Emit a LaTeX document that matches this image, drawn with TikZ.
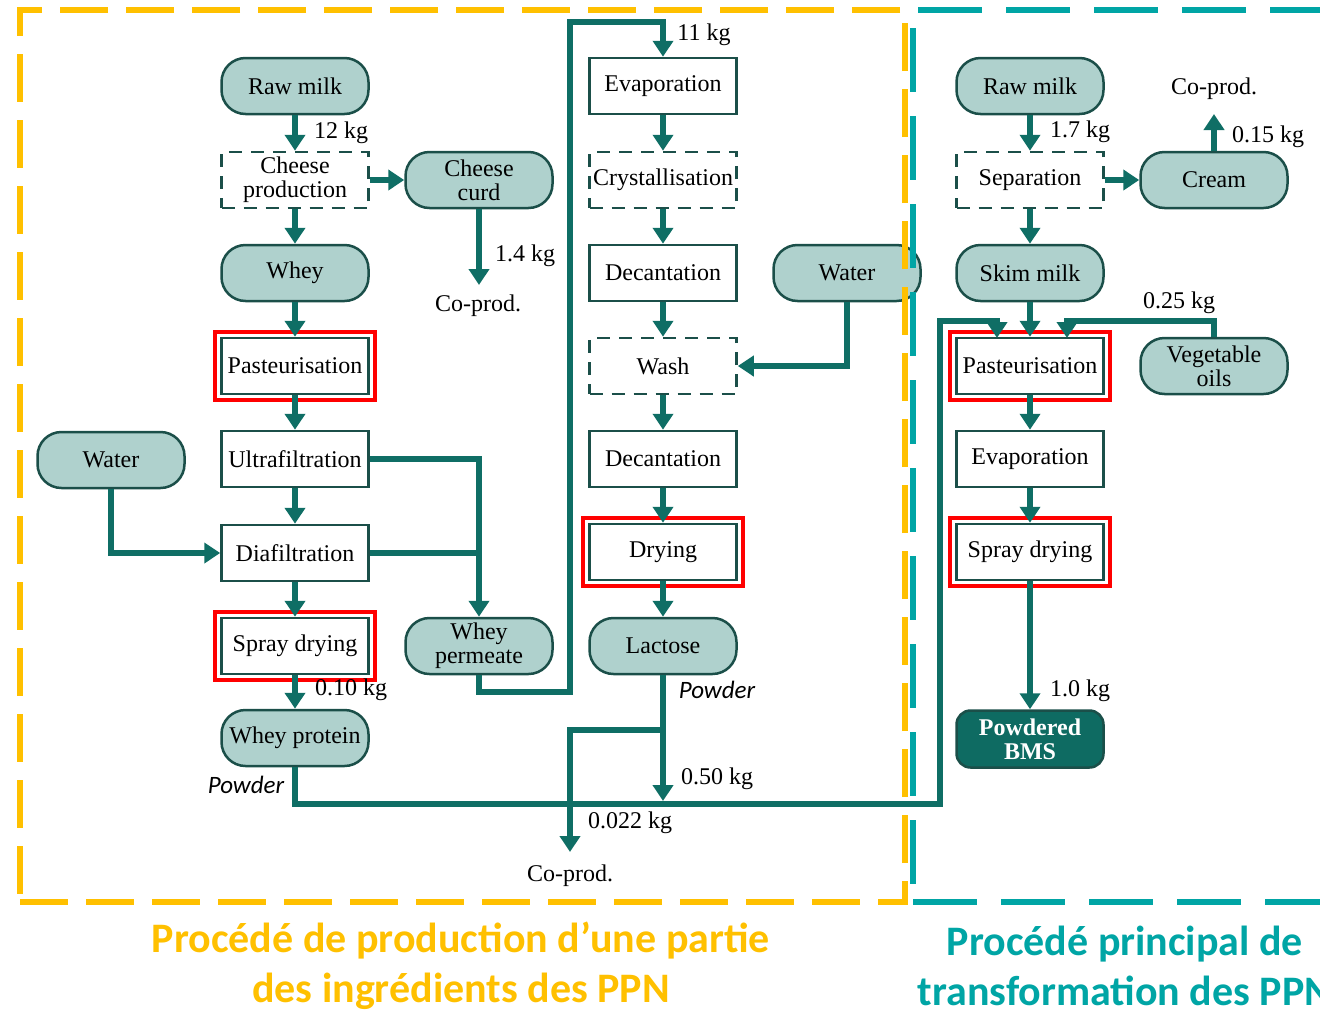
\documentclass[tikz,border=0pt]{standalone}
\usepackage{fontspec}
\setmainfont{Liberation Serif}
\newfontfamily\capfont{Carlito}
\usetikzlibrary{arrows.meta}
\definecolor{ylw}{HTML}{FFC000}
\definecolor{tl}{HTML}{00A5A5}
\definecolor{flowc}{HTML}{0F6E65}
\definecolor{pillf}{HTML}{AFD1CD}
\definecolor{edgec}{HTML}{1B4F49}
\definecolor{bmsf}{HTML}{0E6B62}
\newcommand{\nf}{\fontsize{24}{24}\selectfont}
\tikzset{
  proc/.style={draw=edgec, line width=2.5pt, fill=white, minimum width=147pt, minimum height=56pt, inner sep=0pt, align=center, font=\nf},
  dproc/.style={proc, dash pattern=on 13pt off 9pt},
  pill/.style={draw=edgec, fill=pillf, rounded corners=24pt, line width=2.5pt, minimum width=147pt, minimum height=56pt, inner sep=0pt, align=center, font=\nf},
  bmsbox/.style={draw=edgec, fill=bmsf, rounded corners=14pt, line width=2.5pt, minimum width=147pt, minimum height=57pt, inner sep=0pt, align=center, text=white, font=\nf\bfseries},
  conn/.style={draw=flowc, line width=6pt},
  flow/.style={conn, -{Triangle[length=16pt,width=20pt]}},
  redbox/.style={draw=red, line width=4pt},
  lbl/.style={font=\nf, inner sep=0pt},
  pwd/.style={font=\capfont\itshape\fontsize{25}{25}\selectfont, inner sep=0pt},
  capt/.style={font=\capfont\bfseries\fontsize{42}{42}\selectfont, inner sep=0pt, anchor=base},
  yframe/.style={draw=ylw, line width=6pt, dash pattern=on 48pt off 18pt},
  tframe/.style={draw=tl, line width=6.5pt, dash pattern=on 64pt off 24pt}
}
\begin{document}
\begin{tikzpicture}[x=1pt,y=-1pt]
\useasboundingbox (0,0) rectangle (1320,1010);
% left column
\node[pill] (rm1) at (295,86) {Raw milk};
\node[dproc] (cp) at (295,180) {Cheese\\production};
\node[pill] (cc) at (479,180) {Cheese\\curd};
\node[pill] (wh) at (295,273) {Whey};
\node[proc] (pa1) at (295,366) {Pasteurisation};
\node[proc] (uf) at (295,459) {Ultrafiltration};
\node[proc] (df) at (295,553) {Diafiltration};
\node[proc] (sd1) at (295,646) {Spray drying};
\node[pill] (wp) at (295,738) {Whey protein};
\node[pill] (wa1) at (111,460) {Water};
\node[pill] (wperm) at (479,646) {Whey\\permeate};
% middle column
\node[proc] (ev1) at (663,86) {Evaporation};
\node[dproc] (cr) at (663,180) {Crystallisation};
\node[proc] (de1) at (663,273) {Decantation};
\node[pill] (wa2) at (847,273) {Water};
\node[dproc] (wash) at (663,366) {Wash};
\node[proc] (de2) at (663,459) {Decantation};
\node[proc] (dr) at (663,552) {Drying};
\node[pill] (la) at (663,646) {Lactose};
% right column
\node[pill] (rm2) at (1030,86) {Raw milk};
\node[dproc] (sep) at (1030,180) {Separation};
\node[pill] (cream) at (1214,180) {Cream};
\node[pill] (sk) at (1030,273) {Skim milk};
\node[proc] (pa2) at (1030,366) {Pasteurisation};
\node[pill] (vo) at (1214,366) {Vegetable\\oils};
\node[proc] (ev2) at (1030,459) {Evaporation};
\node[proc] (sd2) at (1030,552) {Spray drying};
\node[bmsbox] (bms) at (1030,739) {Powdered\\BMS};
% red frames
\foreach \n in {pa1,sd1,dr,pa2,sd2}
  \draw[redbox] ([shift={(-5,-5)}]\n.north west) rectangle ([shift={(5,5)}]\n.south east);
% coordinates
\coordinate (ccEnd) at (479,285);
\coordinate (loopB) at (570,692);
\coordinate (loopT) at (570,22);
\coordinate (laEnd) at (663,801);
\coordinate (brY) at (663,730);
\coordinate (coEnd) at (570,852);
\coordinate (hl1) at (940,804);
\coordinate (hl2) at (940,321);
\coordinate (p2a) at (997,338);
\coordinate (vocorner) at (1067,321);
\coordinate (p2b) at (1067,338);
\coordinate (creamEnd) at (1214,114);
% connectors left
\draw[flow] (rm1) -- (cp);
\draw[flow] (cp.east) -- (cc.west);
\draw[flow] (cp) -- (wh);
\draw[flow] (cc.south) -- (ccEnd);
\draw[flow] (wh) -- (pa1);
\draw[flow] (pa1) -- (uf);
\draw[flow] (uf) -- (df);
\draw[flow] (df) -- (sd1);
\draw[flow] (sd1) -- (wp);
\draw[flow] (wa1.south) |- (df.west);
\draw[flow] (uf.east) -| (wperm.north);
\draw[conn] (df.east) -- (df.east -| wperm.north);
\draw[flow] (wperm.south) |- (loopB) -- (loopT) -| (ev1.north);
% connectors middle
\draw[flow] (ev1) -- (cr);
\draw[flow] (cr) -- (de1);
\draw[flow] (de1) -- (wash);
\draw[flow] (wash) -- (de2);
\draw[flow] (de2) -- (dr);
\draw[flow] (dr) -- (la);
\draw[flow] (wa2.south) |- (wash.east);
\draw[flow] (la.south) -- (laEnd);
\draw[flow] (brY) -| (coEnd);
\draw[flow] (wp.south) |- (hl1) -- (hl2) -| (p2a);
% connectors right
\draw[flow] (rm2) -- (sep);
\draw[flow] (sep.east) -- (cream.west);
\draw[flow] (cream.north) -- (creamEnd);
\draw[flow] (sep) -- (sk);
\draw[flow] (sk) -- (pa2);
\draw[flow] (vo.north) |- (vocorner) -- (p2b);
\draw[flow] (pa2) -- (ev2);
\draw[flow] (ev2) -- (sd2);
\draw[flow] (sd2) -- (bms);
% labels
\node[lbl] (t12) at (341,133) {12 kg};
\node[lbl] (t14) at (525,256) {1.4 kg};
\node[lbl] (cpa) at (478,306) {Co-prod.};
\node[lbl] (t11) at (704,35) {11 kg};
\node[lbl] (t010) at (351,690) {0.10 kg};
\node[pwd] (pw1) at (246,785) {Powder};
\node[pwd] (pw2) at (717,690) {Powder};
\node[lbl] (t050) at (717,779) {0.50 kg};
\node[lbl] (t022) at (630,823) {0.022 kg};
\node[lbl] (cpb) at (570,876) {Co-prod.};
\node[lbl] (t17) at (1080,132) {1.7 kg};
\node[lbl] (cpc) at (1214,89) {Co-prod.};
\node[lbl] (t015) at (1268,137) {0.15 kg};
\node[lbl] (t025) at (1179,303) {0.25 kg};
\node[lbl] (t10) at (1080,691) {1.0 kg};
% frames
\draw[yframe] (20,902) -- (905,902) -- (905,10) -- (20,10) -- cycle;
\draw[tframe] (913,902) -- (1340,902);
\draw[tframe, dash phase=70pt] (913,10) -- (913,902);
\draw[tframe, dash phase=83pt] (913,10) -- (1340,10);
% captions
\node[capt, text=ylw] (capL1) at (461,952) {Procédé de production d’une partie};
\node[capt, text=ylw] (capL2) at (461,1002) {des ingrédients des PPN};
\node[capt, text=tl] (capR1) at (1125,955) {Procédé principal de};
\node[capt, text=tl] (capR2) at (1125,1005) {transformation des PPN};
\end{tikzpicture}
\end{document}
